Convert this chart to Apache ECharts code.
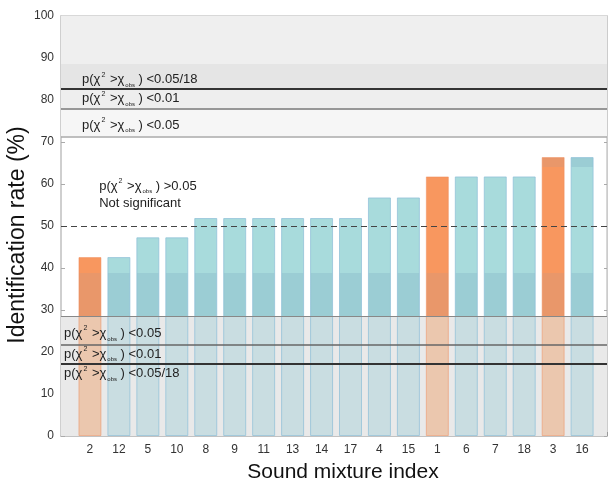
<!DOCTYPE html>
<html>
<head>
<meta charset="utf-8">
<script src="https://cdn.jsdelivr.net/npm/echarts@6/dist/echarts.min.js"></script>
<style>html,body{margin:0;padding:0;background:#fff;}#c{width:608px;height:484px;}</style>
</head>
<body>
<div id="c"></div>
<script>
// ---- data ----
const categories = ['2','12','5','10','8','9','11','13','14','17','4','15','1','6','7','18','3','16'];
const rates = [42.6,42.6,47.3,47.3,51.9,51.9,51.9,51.9,51.9,51.9,56.8,56.8,61.8,61.8,61.8,61.8,66.4,66.4];
const highlighted = ['2','1','3'];
const upperThresholds = [71.3, 78.0, 82.6];   // p<0.05, p<0.01, p<0.05/18
const lowerThresholds = [28.6, 21.8, 17.3];   // p<0.05, p<0.01, p<0.05/18
const thresholdLabels = ['<0.05', '<0.01', '<0.05/18'];
const chanceLevel = 50;
const yTicks = [0,10,20,30,40,50,60,70,80,90,100];
const shadeBreaks = [38.8, 64.0, 88.6];

const FONT = 'Liberation Sans, Arial, sans-serif';

function gradFor(v, hi) {
  const normal = hi ? '#f8975f' : '#a8dbdc';
  const dark = hi ? '#e9976a' : '#9bcdd4';
  const faded = hi ? '#ebc7ae' : '#c9dde1';
  const p = t => Math.min(1, Math.max(0, (v - t) / v));
  const stops = [];
  const pTop = p(shadeBreaks[1]);
  if (v > shadeBreaks[1]) {
    stops.push({offset: 0, color: dark}, {offset: pTop, color: dark}, {offset: pTop, color: normal});
  } else {
    stops.push({offset: 0, color: normal});
  }
  const a = p(shadeBreaks[0]), b = p(lowerThresholds[0]);
  stops.push({offset: a, color: normal}, {offset: a, color: dark},
             {offset: b, color: dark}, {offset: b, color: faded}, {offset: 1, color: faded});
  return {type: 'linear', x: 0, y: 0, x2: 0, y2: 1, colorStops: stops};
}

const barData = rates.map((v, i) => {
  const hi = highlighted.includes(categories[i]);
  return {
    value: [i, v],
    itemStyle: {
      color: gradFor(v, hi),
      borderColor: hi ? 'rgba(240,140,90,0.5)' : 'rgba(140,190,215,0.7)',
      borderWidth: 1
    }
  };
});

function pLabel(t) {
  return '{p|p(χ}{sup|2}{p| >χ}{sub|obs}{p| ) ' + t + '}';
}
const rich = {
  p: {fontSize: 13, color: '#222', fontFamily: FONT, lineHeight: 17},
  sup: {fontSize: 7, color: '#222', fontFamily: FONT, verticalAlign: 'top', lineHeight: 17, padding: [0, 1, 0, 1]},
  sub: {fontSize: 6, color: '#222', fontFamily: FONT, verticalAlign: 'bottom', lineHeight: 15, padding: [0, 0, 0, 1]}
};

const upperStyles = [
  {color: '#aaaaaa', width: 1.5},
  {color: '#777777', width: 1.5},
  {color: '#333333', width: 2}
];
const lowerStyles = [
  {color: '#888888', width: 1.2},
  {color: '#666666', width: 1.5},
  {color: '#333333', width: 2}
];

const lineData = [];
const upDist = [[21, 3], [21, 1], [21, 1]];
upperThresholds.forEach((t, i) => {
  lineData.push({
    yAxis: t,
    lineStyle: {color: upperStyles[i].color, width: upperStyles[i].width, type: 'solid'},
    label: {show: true, position: 'insideStartTop', distance: upDist[i], formatter: pLabel(thresholdLabels[i]), rich: rich}
  });
});
const lowDist = [[3, 9], [3, 1], [3, 2]];
lowerThresholds.forEach((t, i) => {
  lineData.push({
    yAxis: t,
    lineStyle: {color: lowerStyles[i].color, width: lowerStyles[i].width, type: 'solid'},
    label: {show: true, position: 'insideStartBottom', distance: lowDist[i], formatter: pLabel(thresholdLabels[i]), rich: rich}
  });
});
lineData.push({
  yAxis: chanceLevel,
  lineStyle: {color: '#444', width: 1, type: [6, 4]},
  label: {show: false}
});

const chart = echarts.init(document.getElementById('c'), null, {renderer: 'canvas'});
chart.setOption({
  animation: false,
  backgroundColor: '#ffffff',
  grid: {left: 61, right: 1, top: 16, bottom: 48, outerBoundsMode: 'none', containLabel: false,
         show: true, borderColor: '#cccccc', borderWidth: 1.5, backgroundColor: 'transparent'},
  xAxis: {
    type: 'value', min: -1, max: 17.86, interval: 1,
    name: 'Sound mixture index', nameLocation: 'middle', nameGap: 26, nameMoveOverlap: false,
    nameTextStyle: {fontSize: 21, color: '#111', fontFamily: FONT, padding: [0, 0, 0, 18]},
    axisLine: {show: true, onZero: false, lineStyle: {color: '#bbbbbb', width: 1.5}},
    axisTick: {show: true, inside: true, length: 4, lineStyle: {color: '#999'}},
    axisLabel: {
      margin: 8, fontSize: 12, color: '#333', fontFamily: FONT,
      formatter: v => (Number.isInteger(v) && v >= 0 && v < categories.length) ? categories[v] : ''
    },
    splitLine: {show: false}
  },
  yAxis: [{
    type: 'value', min: 0, max: 100, interval: 10,
    name: 'Identification rate (%)', nameLocation: 'middle', nameGap: 32, nameMoveOverlap: false,
    nameTextStyle: {fontSize: 23, color: '#111', fontFamily: FONT, padding: [0, 18, 0, 0]},
    axisLine: {show: true, onZero: false, lineStyle: {color: '#cccccc', width: 1.5}},
    axisTick: {show: true, inside: true, length: 4, lineStyle: {color: '#aaa'}},
    axisLabel: {margin: 7, fontSize: 12, color: '#333', fontFamily: FONT,
      formatter: v => yTicks.includes(v) ? String(v) : ''},
    splitLine: {show: false}
  }, {
    type: 'value', min: 0, max: 100, interval: 10, position: 'right',
    axisLine: {show: true, onZero: false, lineStyle: {color: '#cccccc'}},
    axisTick: {show: true, inside: true, length: 3, lineStyle: {color: '#aaa'}},
    axisLabel: {show: false},
    splitLine: {show: false}
  }],
  series: [
    {
      type: 'line', data: [], z: 1, silent: true,
      markArea: {
        silent: true,
        itemStyle: {borderWidth: 0},
        data: [
          [{yAxis: shadeBreaks[2], itemStyle: {color: '#efefef'}}, {yAxis: 100}],
          [{yAxis: upperThresholds[2], itemStyle: {color: '#e5e5e5'}}, {yAxis: shadeBreaks[2]}],
          [{yAxis: upperThresholds[1], itemStyle: {color: '#eeeeee'}}, {yAxis: upperThresholds[2]}],
          [{yAxis: upperThresholds[0], itemStyle: {color: '#f6f6f6'}}, {yAxis: upperThresholds[1]}],
          [{yAxis: 0, itemStyle: {color: '#e9e9e9'}}, {yAxis: lowerThresholds[0]}]
        ]
      }
    },
    {
      type: 'bar', data: barData, barWidth: 23, z: 2
    },
    {
      type: 'line', data: [], z: 5, silent: true,
      markLine: {
        silent: true, symbol: 'none',
        data: lineData
      },
      markPoint: {
        silent: true, symbol: 'rect', symbolSize: 0,
        data: [{
          coord: [0.32, 57.5],
          label: {
            show: true, position: 'right', distance: 0,
            formatter: pLabel('>0.05') + '\n{p|Not significant}',
            rich: rich
          }
        }]
      }
    }
  ]
});
</script>
</body>
</html>
